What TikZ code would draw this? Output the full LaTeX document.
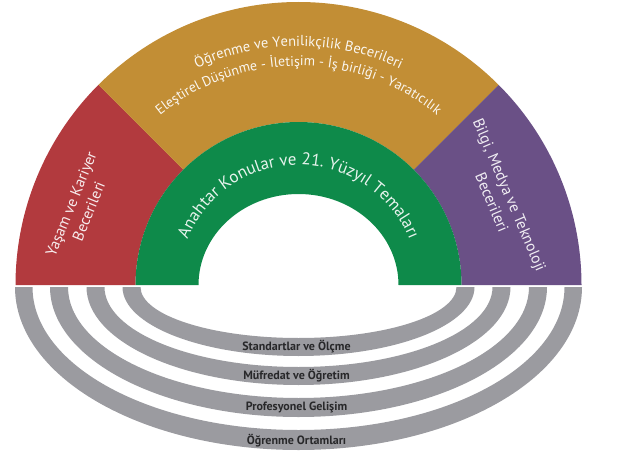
\documentclass[tikz,border=0pt]{standalone}
\usepackage{fontspec}
\setmainfont{PT Sans}
\usetikzlibrary{decorations.text}
\definecolor{kirmizi}{RGB}{178,58,62}
\definecolor{altin}{RGB}{194,142,53}
\definecolor{yesil}{RGB}{14,138,74}
\definecolor{mor}{RGB}{106,80,134}
\definecolor{gri}{RGB}{155,155,160}
\definecolor{koyu}{RGB}{40,40,42}

\begin{document}
\begin{tikzpicture}[line cap=round,line join=round,x=1pt,y=1pt,
    sidetext/.style={align=center,font=\fontsize{15.5}{19}\selectfont,inner sep=0pt},
    ringtext/.style={text=koyu,font=\bfseries\fontsize{12}{12}\selectfont,inner sep=0pt}]
    \useasboundingbox (0,0) rectangle (621,475);

    \coordinate (O) at (298.5,190);
    \coordinate (R) at (298.5,188);

    % Outer bands
    \fill[kirmizi] (O) ++(135:283) arc (135:180:283) -- ++(0:120) arc (180:135:163) -- cycle;
    \fill[altin] (O) ++(45:283) arc (45:135:283) -- ++(-45:120) arc (135:45:163) -- cycle;
    \fill[mor] (O) ++(0:283) arc (0:45:283) -- ++(225:120) arc (45:0:163) -- cycle;

    % Inner band
    \fill[yesil] (O) ++(0:163) arc (0:180:163) -- ++(63,0)
        arc[start angle=180,end angle=0,x radius=100,y radius=91] -- cycle;

    % Rings
    \foreach \ao/\ai/\bo/\bi in {283.5/266/163/143, 248.5/230.5/130/111, 212/194/98/80, 176/158/69/51} {
            \fill[gri] (R) ++(-\ao,0) arc[start angle=180,end angle=360,x radius=\ao,y radius=\bo]
                -- ++({\ai-\ao},0) arc[start angle=0,end angle=-180,x radius=\ai,y radius=\bi] -- cycle;
        }

    % Texts along the arcs
    \path[decorate,decoration={text along path,text align=center,text color=altin!8!white,
                text={|\fontsize{14.5}{14.5}\selectfont|Öğrenme ve Yenilikçilik Becerileri}}]
        (O) ++(180:239) arc (180:0:239);
    \path[decorate,decoration={text along path,text align=center,text color=altin!8!white,
                text={|\fontsize{14}{14}\selectfont|Eleştirel Düşünme - İletişim - İş birliği - Yaratıcılık}}]
        (O) ++(180:219) arc (180:0:219);
    \path[decorate,decoration={text along path,text align=center,text color=yesil!10!white,
                text={|\fontsize{17}{17}\selectfont|Anahtar Konular ve 21. Yüzyıl Temaları}}]
        (O) ++(180:120) arc (180:0:120);

    % Side texts
    \node[sidetext,rotate=68,text=kirmizi!10!white] (yasam) at ([shift={(160.5:232)}]O) {Yaşam ve Kariyer\\Becerileri};
    \node[sidetext,rotate=-67,text=mor!10!white] (bilgi) at ([shift={(23.1:220)}]O) {Bilgi, Medya ve Teknoloji\\Becerileri};

    % Ring labels
    \foreach \name/\y/\txt in {standart/128/Standartlar ve Ölçme, mufredat/99/Müfredat ve Öğretim,
            profesyonel/68/Profesyonel Gelişim, ortam/34.5/Öğrenme Ortamları} {
            \node[ringtext] (\name) at (296.5,\y) {\txt};
        }
\end{tikzpicture}
\end{document}
